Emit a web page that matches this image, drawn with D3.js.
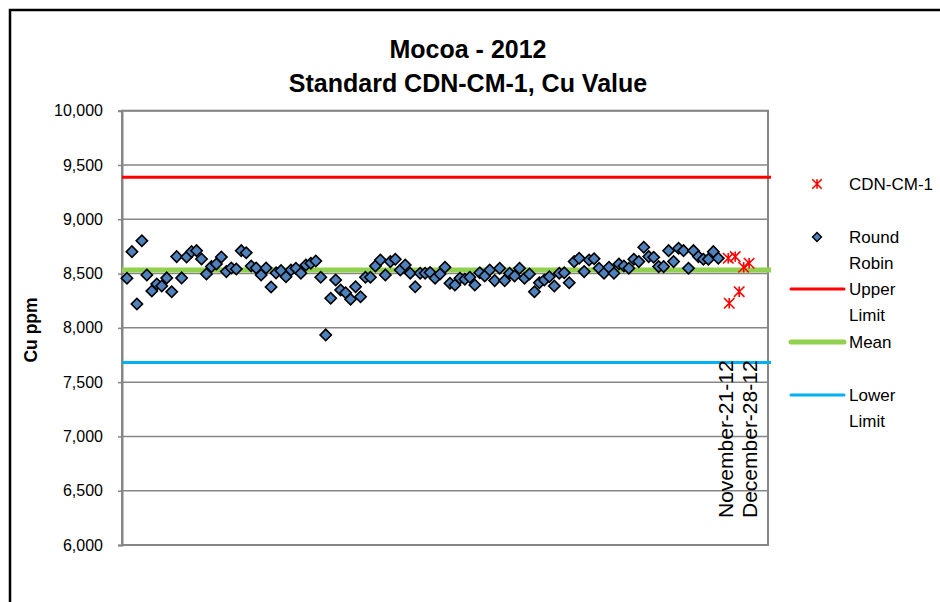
<!DOCTYPE html>
<html>
<head>
<meta charset="utf-8">
<script src="https://cdn.jsdelivr.net/npm/d3@7"></script>
<style>
  body { margin: 0; background: #fff; }
  svg { display: block; font-family: "Liberation Sans", Arial, sans-serif; }
</style>
</head>
<body>
<svg width="940" height="602"></svg>
<script>
// Round Robin Cu values (ppm) in sample order
const roundRobin = [
  8457, 8702, 8220, 8803, 8487, 8340, 8404, 8386, 8460, 8333,
  8656, 8460, 8653, 8702, 8711, 8634, 8496, 8564, 8588, 8653,
  8518, 8552, 8542, 8711, 8692, 8570, 8552, 8487, 8552, 8377,
  8506, 8527, 8471, 8533, 8549, 8503, 8579, 8595, 8616, 8466,
  7935, 8273, 8441, 8349, 8324, 8263, 8379, 8287, 8466, 8466,
  8570, 8625, 8487, 8610, 8632, 8533, 8579, 8503, 8379, 8503,
  8503, 8510, 8457, 8496, 8558, 8411, 8395, 8457, 8448, 8466,
  8395, 8508, 8478, 8533, 8435, 8549, 8435, 8503, 8478, 8549,
  8457, 8496, 8333, 8416, 8441, 8471, 8386, 8503, 8508, 8416,
  8610, 8641, 8518, 8625, 8636, 8549, 8503, 8558, 8503, 8588,
  8570, 8549, 8632, 8610, 8742, 8656, 8650, 8564, 8564, 8711,
  8610, 8733, 8711, 8549, 8711, 8656, 8632, 8632, 8702, 8641
]

// CDN-CM-1 standard results (position on the category axis, value)
const standardPos = [122.0, 122.2, 123.4, 124.2, 125.1, 126.2]
const standardVal = [8641, 8227, 8656, 8333, 8558, 8595]

// control limits
const meanValue = 8533
const upperLimit = 9386
const lowerLimit = 7680

const xLabels = ["November-21-12", "December-28-12"]
const xLabelPos = [121.4, 126.4]

const yTicks = [6000, 6500, 7000, 7500, 8000, 8500, 9000, 9500, 10000]

const titleLines = ["Mocoa - 2012", "Standard CDN-CM-1, Cu Value"]

const svg = d3.select("svg")

// outer chart frame (runs off the right and bottom edge)
svg.append("rect")
  .attr("x", 10).attr("y", 10)
  .attr("width", 960).attr("height", 640)
  .attr("fill", "#fff")
  .attr("stroke", "#000")
  .attr("stroke-width", 2.5)

const plot = { left: 122, right: 768, top: 110.7, bottom: 545 }

const x = d3.scaleLinear().domain([0, 130]).range([plot.left, plot.right])
const y = d3.scaleLinear().domain([6000, 10000]).range([plot.bottom, plot.top])

// gridlines
svg.append("g")
  .selectAll("line")
  .data(yTicks)
  .join("line")
  .attr("x1", plot.left).attr("x2", plot.right)
  .attr("y1", d => y(d)).attr("y2", d => y(d))
  .attr("stroke", "#868686")
  .attr("stroke-width", 1.5)

// plot area border
svg.append("rect")
  .attr("x", plot.left).attr("y", plot.top)
  .attr("width", plot.right - plot.left)
  .attr("height", plot.bottom - plot.top)
  .attr("fill", "none")
  .attr("stroke", "#868686")
  .attr("stroke-width", 2)

// y axis
const yAxis = svg.append("g")
  .attr("transform", "translate(" + plot.left + ",0)")
  .call(d3.axisLeft(y).tickValues(yTicks).tickFormat(d3.format(",")).tickSize(4).tickPadding(15))
yAxis.select(".domain").attr("stroke", "#868686").attr("stroke-width", 2)
yAxis.selectAll(".tick line").attr("stroke", "#868686").attr("stroke-width", 1.5)
yAxis.selectAll(".tick text")
  .attr("font-size", 16)
  .attr("font-family", "Liberation Sans, Arial, sans-serif")
  .attr("fill", "#000")

// axis title
svg.append("text")
  .attr("transform", "translate(37,330) rotate(-90)")
  .attr("text-anchor", "middle")
  .attr("font-size", 17.5)
  .attr("font-weight", "bold")
  .text("Cu ppm")

// chart title
svg.append("g")
  .selectAll("text")
  .data(titleLines)
  .join("text")
  .attr("x", 468)
  .attr("y", (d, i) => 58 + i * 34)
  .attr("text-anchor", "middle")
  .attr("font-size", 25)
  .attr("font-weight", "bold")
  .text(d => d)

// control lines
const limits = [
  { value: lowerLimit, color: "#00b0f0", width: 3 },
  { value: upperLimit, color: "#ff0000", width: 3 },
  { value: meanValue, color: "#92d050", width: 5 }
]
const span = [0, 130.6]
svg.append("g")
  .selectAll("line")
  .data(limits)
  .join("line")
  .attr("x1", x(span[0])).attr("x2", x(span[1]))
  .attr("y1", d => y(d.value)).attr("y2", d => y(d.value))
  .attr("stroke", d => d.color)
  .attr("stroke-width", d => d.width)

// x axis date labels (sit inside the plot, rotated)
svg.append("g")
  .selectAll("text")
  .data(xLabels)
  .join("text")
  .attr("transform", (d, i) => "translate(" + x(xLabelPos[i]) + ",518) rotate(-90)")
  .attr("dy", "0.35em")
  .attr("font-size", 21)
  .text(d => d)

// markers
const diamond = d3.symbol().type(d3.symbolSquare).size(64)
const excelStar = {
  draw(ctx, size) {
    const r = Math.sqrt(size) / 2
    ctx.moveTo(-r, -r); ctx.lineTo(r, r)
    ctx.moveTo(-r, r); ctx.lineTo(r, -r)
    ctx.moveTo(0, -r); ctx.lineTo(0, r)
  }
}
const star = d3.symbol().type(excelStar).size(110)

svg.append("g")
  .selectAll("path")
  .data(roundRobin)
  .join("path")
  .attr("d", diamond)
  .attr("transform", (d, i) => "translate(" + x(i + 1) + "," + y(d) + ") rotate(45)")
  .attr("fill", "#4f81bd")
  .attr("stroke", "#000")
  .attr("stroke-width", 1.6)

svg.append("g")
  .selectAll("path")
  .data(standardVal)
  .join("path")
  .attr("d", star)
  .attr("transform", (d, i) => "translate(" + x(standardPos[i]) + "," + y(d) + ")")
  .attr("fill", "none")
  .attr("stroke", "#ff0000")
  .attr("stroke-width", 1.6)

// legend
const legend = svg.append("g").attr("font-size", 17)
const lx = 817, tx = 849

legend.append("path")
  .attr("d", d3.symbol().type(excelStar).size(90))
  .attr("transform", "translate(" + lx + ",184)")
  .attr("stroke", "#ff0000").attr("stroke-width", 1.6).attr("fill", "none")
legend.append("text").attr("x", tx).attr("y", 184).attr("dy", "0.35em").text("CDN-CM-1")

legend.append("path")
  .attr("d", d3.symbol().type(d3.symbolSquare).size(40))
  .attr("transform", "translate(" + lx + ",237) rotate(45)")
  .attr("fill", "#4f81bd").attr("stroke", "#000").attr("stroke-width", 1.4)
legend.append("text").attr("x", tx).attr("y", 237).attr("dy", "0.35em").text("Round")
legend.append("text").attr("x", tx).attr("y", 263).attr("dy", "0.35em").text("Robin")

const legendLines = [
  { y: 289, color: "#ff0000", width: 3, text: ["Upper", "Limit"] },
  { y: 342, color: "#92d050", width: 5, text: ["Mean"] },
  { y: 395, color: "#00b0f0", width: 3, text: ["Lower", "Limit"] }
]
legendLines.forEach(function(item) {
  legend.append("line")
    .attr("x1", 791).attr("x2", 844)
    .attr("y1", item.y).attr("y2", item.y)
    .attr("stroke", item.color)
    .attr("stroke-width", item.width)
    .attr("stroke-linecap", "round")
  item.text.forEach(function(t, k) {
    legend.append("text")
      .attr("x", tx).attr("y", item.y + k * 26.5)
      .attr("dy", "0.35em")
      .text(t)
  })
})
</script>
</body>
</html>
